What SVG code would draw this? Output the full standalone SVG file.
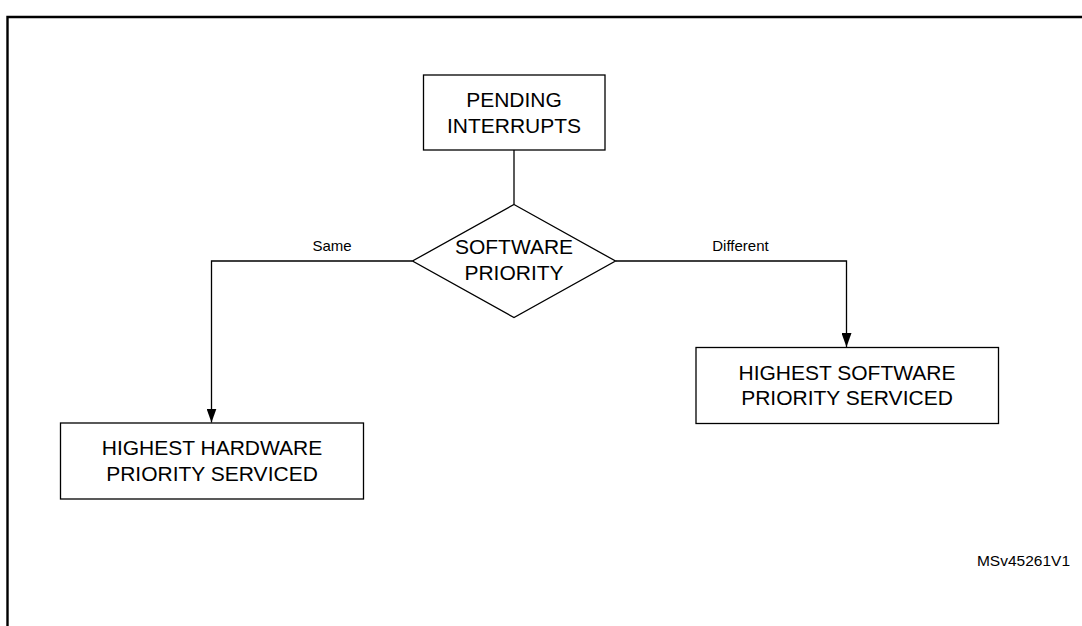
<svg xmlns="http://www.w3.org/2000/svg" width="1082" height="626" viewBox="0 0 1082 626">
  <style>
    .box { fill: #ffffff; stroke: #000000; stroke-width: 1.3; }
    .lbl { font-family: "Liberation Sans", Arial, sans-serif; font-size: 21px; fill: #000000; text-anchor: middle; }
    .small { font-family: "Liberation Sans", Arial, sans-serif; font-size: 15px; fill: #000000; text-anchor: middle; }
    .conn { fill: none; stroke: #000000; stroke-width: 1.3; }
    .frame { fill: none; stroke: #000000; stroke-width: 2.4; }
  </style>
  <defs>
    <marker id="arrow" markerWidth="14" markerHeight="10" refX="14" refY="5" orient="auto" markerUnits="userSpaceOnUse" viewBox="0 0 14 10">
      <path d="M0,0 L14,5 L0,10 Z" fill="#000000"/>
    </marker>
  </defs>
  <rect width="1082" height="626" fill="#ffffff"/>
  <path class="frame" d="M7.5,626 L7.5,17 L1082,17"/>

  <g id="connectors">
    <line class="conn" x1="514" y1="150" x2="514" y2="204.5"/>
    <path class="conn" d="M412.5,261 L211.5,261 L211.5,422.5" marker-end="url(#arrow)"/>
    <path class="conn" d="M615.5,261 L846.5,261 L846.5,347" marker-end="url(#arrow)"/>
    <text class="small" x="332" y="250.5">Same</text>
    <text class="small" x="740.5" y="250.5">Different</text>
  </g>

  <g id="pending">
    <rect class="box" x="423.5" y="75" width="181.5" height="75"/>
    <text class="lbl" x="514" y="106.5">PENDING</text>
    <text class="lbl" x="514" y="132.5">INTERRUPTS</text>
  </g>

  <g id="decision">
    <polygon class="box" points="514,204.5 615.5,261 514,317.5 412.5,261"/>
    <text class="lbl" x="514" y="254">SOFTWARE</text>
    <text class="lbl" x="514" y="279.5">PRIORITY</text>
  </g>

  <g id="software">
    <rect class="box" x="696" y="347.5" width="302.5" height="76"/>
    <text class="lbl" x="847" y="379.5">HIGHEST SOFTWARE</text>
    <text class="lbl" x="847" y="405">PRIORITY SERVICED</text>
  </g>

  <g id="hardware">
    <rect class="box" x="60.5" y="423" width="303" height="76"/>
    <text class="lbl" x="212" y="455">HIGHEST HARDWARE</text>
    <text class="lbl" x="212" y="480.5">PRIORITY SERVICED</text>
  </g>

  <text id="ref" font-family="Liberation Sans, Arial, sans-serif" font-size="15.5" x="1070" y="566" text-anchor="end">MSv45261V1</text>
</svg>
